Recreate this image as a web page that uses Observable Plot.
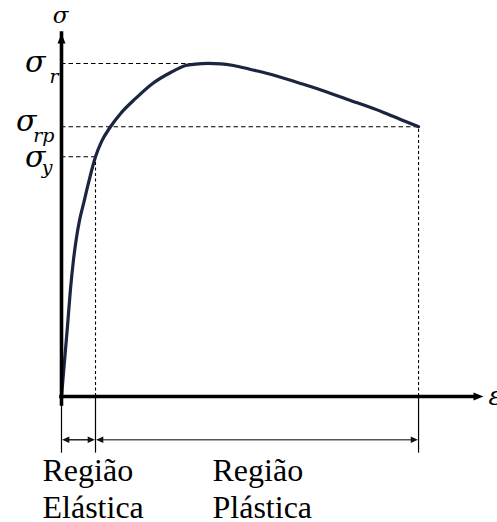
<!DOCTYPE html>
<html>
<head>
<meta charset="utf-8">
<script src="https://cdn.jsdelivr.net/npm/d3@7"></script>
<script src="https://cdn.jsdelivr.net/npm/@observablehq/plot@0.6"></script>
<style>
  body { margin: 0; background: #fff; }
</style>
</head>
<body>
<div id="chart"></div>
<script>
// Stress–strain curve in arbitrary units: strain ε (x) against stress σ (y)
const strain = [0, 0.09, 0.18, 0.26, 0.35, 0.44, 0.53, 0.65, 0.79, 1.0, 1.18, 1.44, 1.74, 2.18, 2.68, 3.21, 3.65, 3.94, 4.32, 4.68, 5.06, 5.56, 6.06, 7.03, 7.76, 8.5, 9.47, 9.97, 10.5];
const stress = [0, 10.8, 21.6, 31.8, 40.8, 47.7, 52.9, 58.0, 64.0, 72, 76.6, 81, 85.0, 89.5, 94.0, 97.3, 99.4, 99.8, 100, 99.9, 99.4, 98.2, 97.0, 94.0, 91.6, 88.9, 85.3, 83.2, 81];

// Characteristic stresses: ultimate (σr), at rupture (σrp), yield (σy)
const levelNames = ["r", "rp", "y"];
const levelStress = [100, 81, 72];
const levelStrain = [4.25, 10.5, 1];

// Regions along the strain axis
const regionNames = ["Região\nElástica", "Região\nPlástica"];
const regionStart = [0, 1];
const regionEnd = [1, 10.5];

// Axis extents (arrow tips)
const strainMax = 12.41;
const stressMax = 109;

const curve = strain.map((x, i) => ({x, y: stress[i]}));
const levels = levelNames.map((name, i) => ({name, y: levelStress[i], x: levelStrain[i]}));
const regions = regionNames.map((name, i) => ({name, x1: regionStart[i], x2: regionEnd[i]}));
const yieldStrain = regionEnd[0];
const ruptureStrain = regionEnd[1];

// Filled arrowhead symbols with the tip at the anchor point
function arrowHead(dir, ratio = 0.8) {
  return {
    draw(context, size) {
      const l = 2 * Math.sqrt(size / Math.PI);
      const w = l * ratio / 2;
      const pts = {
        up: [[0, 0], [-w, l], [w, l]],
        right: [[0, 0], [-l, -w], [-l, w]],
        left: [[0, 0], [l, -w], [l, w]]
      }[dir];
      context.moveTo(pts[0][0], pts[0][1]);
      context.lineTo(pts[1][0], pts[1][1]);
      context.lineTo(pts[2][0], pts[2][1]);
      context.closePath();
    }
  };
}

const textSerif = "Liberation Serif";
const mathSerif = "DejaVu Serif";
const bracketY = -13;
const bracketBottom = -17;

// Placement of the σ labels beside the vertical axis (pixels)
const labelLayout = {
  r:  {sigmaDx: -16, sigmaDy: 9,  subDx: -3,  subDy: 20},
  rp: {sigmaDx: -25, sigmaDy: 4,  subDx: -7,  subDy: 15},
  y:  {sigmaDx: -16, sigmaDy: 10, subDx: -9,  subDy: 17}
};

const labelMarks = levels.flatMap((d) => {
  const L = labelLayout[d.name];
  return [
    Plot.text([d], {x: () => 0, y: "y", text: () => "σ", textAnchor: "end", lineAnchor: "bottom",
      dx: L.sigmaDx, dy: L.sigmaDy, fontSize: 30, fontStyle: "italic", fontFamily: mathSerif}),
    Plot.text([d], {x: () => 0, y: "y", text: "name", textAnchor: "end", lineAnchor: "bottom",
      dx: L.subDx, dy: L.subDy, fontSize: 19, fontStyle: "italic", fontFamily: mathSerif})
  ];
});

const regionText = {y: () => 0, text: "name", textAnchor: "start", lineAnchor: "bottom",
  dy: 121, fontSize: 32, lineHeight: 37 / 32, fontFamily: textSerif};

const chart = Plot.plot({
  width: 497,
  height: 522,
  marginLeft: 61,
  marginRight: 14,
  marginTop: 33,
  marginBottom: 126,
  x: {domain: [0, strainMax], axis: null},
  y: {domain: [0, stressMax], axis: null},
  marks: [
    // dashed guides to the characteristic stresses
    Plot.ruleY(levels, {y: "y", x1: () => 0, x2: "x", stroke: "black", strokeWidth: 1.1, strokeDasharray: "4.5,3"}),
    Plot.ruleX(levels.filter((d) => d.name !== "r"), {x: "x", y1: () => 0, y2: "y", stroke: "black", strokeWidth: 1.1, strokeDasharray: "3,2.5"}),
    // region boundaries below the strain axis
    Plot.ruleX([0, yieldStrain, ruptureStrain], {x: (d) => d, y1: () => 0, y2: () => bracketBottom, stroke: "black", strokeWidth: 1.2}),
    // region span arrows
    Plot.ruleY(regions, {y: () => bracketY, x1: "x1", x2: "x2", stroke: (d, i) => i === 0 ? "#111" : "#555",
      strokeWidth: 1.4, insetLeft: 5, insetRight: 5}),
    Plot.dot(regions, {x: "x1", y: () => bracketY, symbol: arrowHead("left", 0.9), r: 3.6, fill: "#111", stroke: "none", dx: 0.6}),
    Plot.dot(regions, {x: "x2", y: () => bracketY, symbol: arrowHead("right", 0.9), r: 3.6, fill: "#111", stroke: "none", dx: -0.6}),
    // stress–strain curve
    Plot.line(curve, {x: "x", y: "y", curve: "monotone-x", stroke: "#1b2440", strokeWidth: 3.2}),
    // axes with arrowheads
    Plot.ruleX([0], {y1: 0, y2: stressMax, stroke: "black", strokeWidth: 3.6, insetTop: 8, strokeLinecap: "square"}),
    Plot.ruleY([0], {x1: 0, x2: strainMax, stroke: "black", strokeWidth: 3.6, insetRight: 8, strokeLinecap: "square"}),
    Plot.dot([0], {x: () => 0, y: () => stressMax, symbol: arrowHead("up", 0.8), r: 5, fill: "black", stroke: "none"}),
    Plot.dot([0], {x: () => strainMax, y: () => 0, symbol: arrowHead("right", 0.8), r: 5, fill: "black", stroke: "none"}),
    // axis labels
    Plot.text(["σ"], {x: () => 0, y: () => stressMax, text: (d) => d, textAnchor: "middle", lineAnchor: "bottom",
      dx: -1, dy: -11, fontSize: 23, fontStyle: "italic", fontFamily: mathSerif}),
    Plot.text(["ε"], {x: () => strainMax, y: () => 0, text: (d) => d, textAnchor: "start", lineAnchor: "bottom",
      dx: 5, dy: 8, fontSize: 26, fontStyle: "italic", fontFamily: mathSerif}),
    ...labelMarks,
    // region names
    Plot.text(regions.slice(0, 1), {...regionText, x: "x1", dx: -19}),
    Plot.text(regions.slice(1), {...regionText, x: "x1", dx: 117})
  ]
});

document.getElementById("chart").append(chart);
</script>
</body>
</html>
